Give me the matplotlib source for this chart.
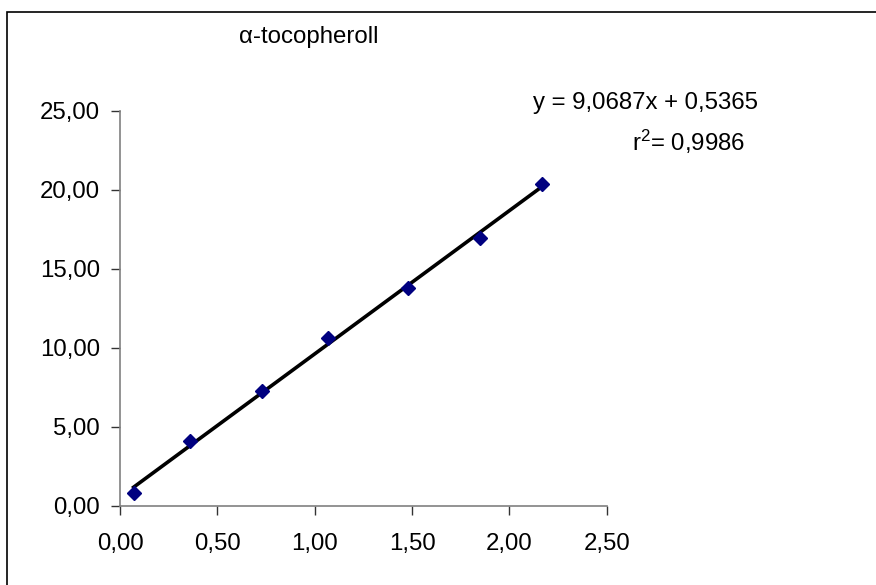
import matplotlib
matplotlib.use("Agg")
import matplotlib.pyplot as plt
from matplotlib.patches import Rectangle
from matplotlib.ticker import FuncFormatter
import numpy as np

plt.rcParams.update({
    "font.family": "sans-serif",
    "font.sans-serif": ["Liberation Sans", "Arial", "DejaVu Sans"],
    "mathtext.fontset": "custom",
    "mathtext.rm": "Liberation Sans",
    "mathtext.it": "Liberation Sans:italic",
    "mathtext.bf": "Liberation Sans:bold",
})

# ── data ───────────────────────────────────────────────────────
conc = [0.07, 0.36, 0.73, 1.07, 1.48, 1.85, 2.17]
area = [0.78, 4.09, 7.26, 10.63, 13.76, 16.96, 20.36]
slope, intercept = 9.0687, 0.5365
r2 = 0.9986
x_ticks = [0.0, 0.5, 1.0, 1.5, 2.0, 2.5]
y_ticks = [0, 5, 10, 15, 20, 25]

W, H = 876, 585
FS = 17.3
fig = plt.figure(figsize=(W / 100, H / 100), dpi=100)
ax = fig.add_axes([120 / W, (H - 505.7) / H, (606.7 - 120) / W, (505.7 - 110.7) / H])

# outer chart frame (Excel style)
fig.patches.append(Rectangle((6.5 / W, -0.1), 2.0, (H - 11.7) / H + 0.1,
                             transform=fig.transFigure, fill=False,
                             edgecolor="black", linewidth=1.2))

xs = np.array([min(conc), max(conc)])
ax.plot(xs, slope * xs + intercept, color="black", lw=2.6, zorder=2)
ax.plot(conc, area, ls="none", marker="D", ms=7.5, color="#000080",
        mec="#000080", zorder=3)

ax.set_xlim(0, 2.5)
ax.set_ylim(0, 25)
ax.set_xticks(x_ticks)
ax.set_yticks(y_ticks)
comma = FuncFormatter(lambda v, p: f"{v:.2f}".replace(".", ","))
ax.xaxis.set_major_formatter(comma)
ax.yaxis.set_major_formatter(comma)
ax.tick_params(direction="out", length=6.5, width=1.0, color="#333333",
               labelsize=FS, pad=8)
ax.tick_params(axis="x", pad=13)
for s in ("top", "right"):
    ax.spines[s].set_visible(False)
for s in ("left", "bottom"):
    ax.spines[s].set_color("#808080")
    ax.spines[s].set_linewidth(1.2)

fig.text(309 / W, 1 - 37 / H, "α-tocopheroll", ha="center", va="center",
         fontsize=FS)
fig.text(533 / W, 1 - 103 / H, "y = 9,0687x + 0,5365", ha="left",
         va="center", fontsize=FS)
fig.text(632 / W, 1 - 142 / H, "r$^2$= " + f"{r2:.4f}".replace(".", ","),
         ha="left", va="center", fontsize=FS)

fig.savefig("out.png", dpi=100, facecolor="white")
